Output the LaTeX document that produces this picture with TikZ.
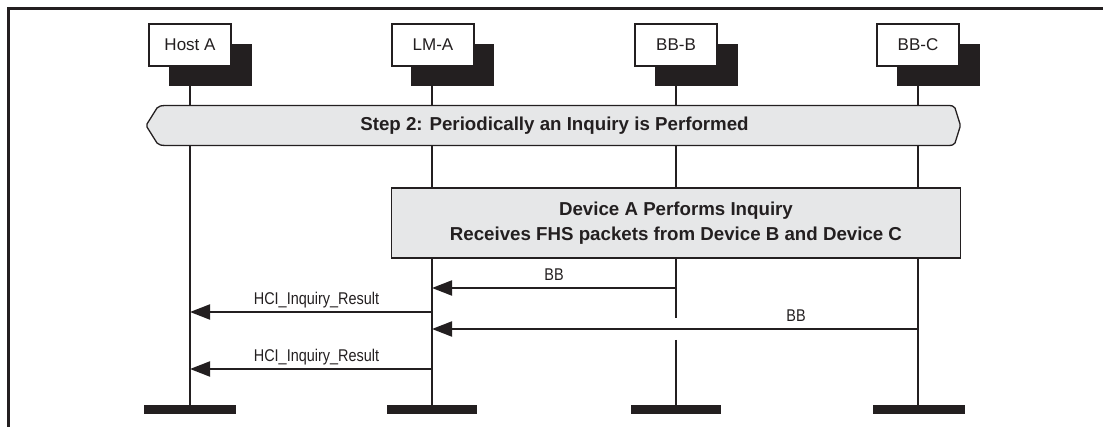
\documentclass[tikz,border=0pt]{standalone}
\usepackage{fontspec}
\setmainfont{Liberation Sans}
\usetikzlibrary{arrows.meta}
\definecolor{ink}{HTML}{231F20}
\definecolor{panel}{HTML}{E6E7E8}
\begin{document}
\begin{tikzpicture}[x=1pt,y=-1pt,
  every node/.style={text=ink},
  headbox/.style={draw=ink,line width=1.3pt,fill=white,minimum width=82pt,minimum height=42pt,inner sep=0pt,font=\fontsize{17}{20}\selectfont},
  shadowbox/.style={fill=ink},
  lifeline/.style={draw=ink,line width=2pt},
  endbar/.style={fill=ink},
  msg/.style={draw=ink,line width=2pt,-{Triangle[length=20pt,width=15pt]}},
  msglabel/.style={anchor=base,font=\fontsize{17}{20}\selectfont,inner sep=0pt},
  boldtext/.style={font=\fontsize{18.7}{24.5}\selectfont\bfseries,align=center,inner sep=0pt},
  panelline/.style={draw=ink,line width=1.3pt,fill=panel},
  frame/.style={draw=ink,line width=3pt}
]
\useasboundingbox (0,0) rectangle (1106,427);
% frame
\draw[frame] (8.5,427) -- (8.5,8.5) -- (1103,8.5);

% lifeline coordinates
\coordinate (hostA-top) at (190,86);  \coordinate (hostA-bot) at (190,405);
\coordinate (lmA-top) at (432,86);    \coordinate (lmA-bot) at (432,405);
\coordinate (bbB-top) at (676,86);    \coordinate (bbB-bot) at (676,405);
\coordinate (bbC-top) at (918,86);    \coordinate (bbC-bot) at (918,405);
\coordinate (bbB-gap1) at (676,318);  \coordinate (bbB-gap2) at (676,340);

% lifelines
\draw[lifeline] (hostA-top) -- (hostA-bot);
\draw[lifeline] (lmA-top) -- (lmA-bot);
\draw[lifeline] (bbB-top) -- (bbB-gap1);
\draw[lifeline] (bbB-gap2) -- (bbB-bot);
\draw[lifeline] (bbC-top) -- (bbC-bot);

% shadows and head boxes
\fill[shadowbox] (169,44) rectangle (252,86);
\fill[shadowbox] (411,44) rectangle (494,86);
\fill[shadowbox] (655,44) rectangle (738,86);
\fill[shadowbox] (897,44) rectangle (980,86);
\node[headbox] (hostA) at (190,45) {Host A};
\node[headbox] (lmA) at (433,45) {LM-A};
\node[headbox] (bbB) at (676,45) {BB-B};
\node[headbox] (bbC) at (918,45) {BB-C};

% end bars
\fill[endbar] (144,405) rectangle (236,414);
\fill[endbar] (387,405) rectangle (477,414);
\fill[endbar] (631,405) rectangle (721,414);
\fill[endbar] (873,405) rectangle (965,414);

% step banner
\draw[panelline] (168,105.5) .. controls (161,105.5) and (158.5,106) .. (157,108)
  -- (147,124) -- (147,127) -- (157,143)
  .. controls (158.5,145) and (161,145.5) .. (168,145.5)
  -- (947,145.5) .. controls (952,145.5) and (954,145) .. (955,143)
  -- (960,127) -- (960,124) -- (955,108)
  .. controls (954,106) and (952,105.5) .. (947,105.5) -- cycle;
\node[boldtext] (step) at (554.5,126) {Step 2: Periodically an Inquiry is Performed};

% device box
\node[panelline,boldtext,minimum width=569pt,minimum height=70pt] (dev) at (676,223)
  {Device A Performs Inquiry\\Receives FHS packets from Device B and Device C};

% messages
\coordinate (m1) at (0,288);
\coordinate (m2) at (0,312);
\coordinate (m3) at (0,329);
\coordinate (m4) at (0,369);
\draw[msg] (bbB-top |- m1) -- (lmA-top |- m1);
\draw[msg] (lmA-top |- m2) -- (hostA-top |- m2);
\draw[msg] (bbC-top |- m3) -- (lmA-top |- m3);
\draw[msg] (lmA-top |- m4) -- (hostA-top |- m4);

\node[msglabel] (l1) at (554,281) {\scalebox{0.85}[1]{BB}};
\node[msglabel] (l2) at (316.5,305) {\scalebox{0.85}[1]{HCI\_Inquiry\_Result}};
\node[msglabel] (l3) at (796,322) {\scalebox{0.85}[1]{BB}};
\node[msglabel] (l4) at (316.5,362) {\scalebox{0.85}[1]{HCI\_Inquiry\_Result}};
\end{tikzpicture}
\end{document}
